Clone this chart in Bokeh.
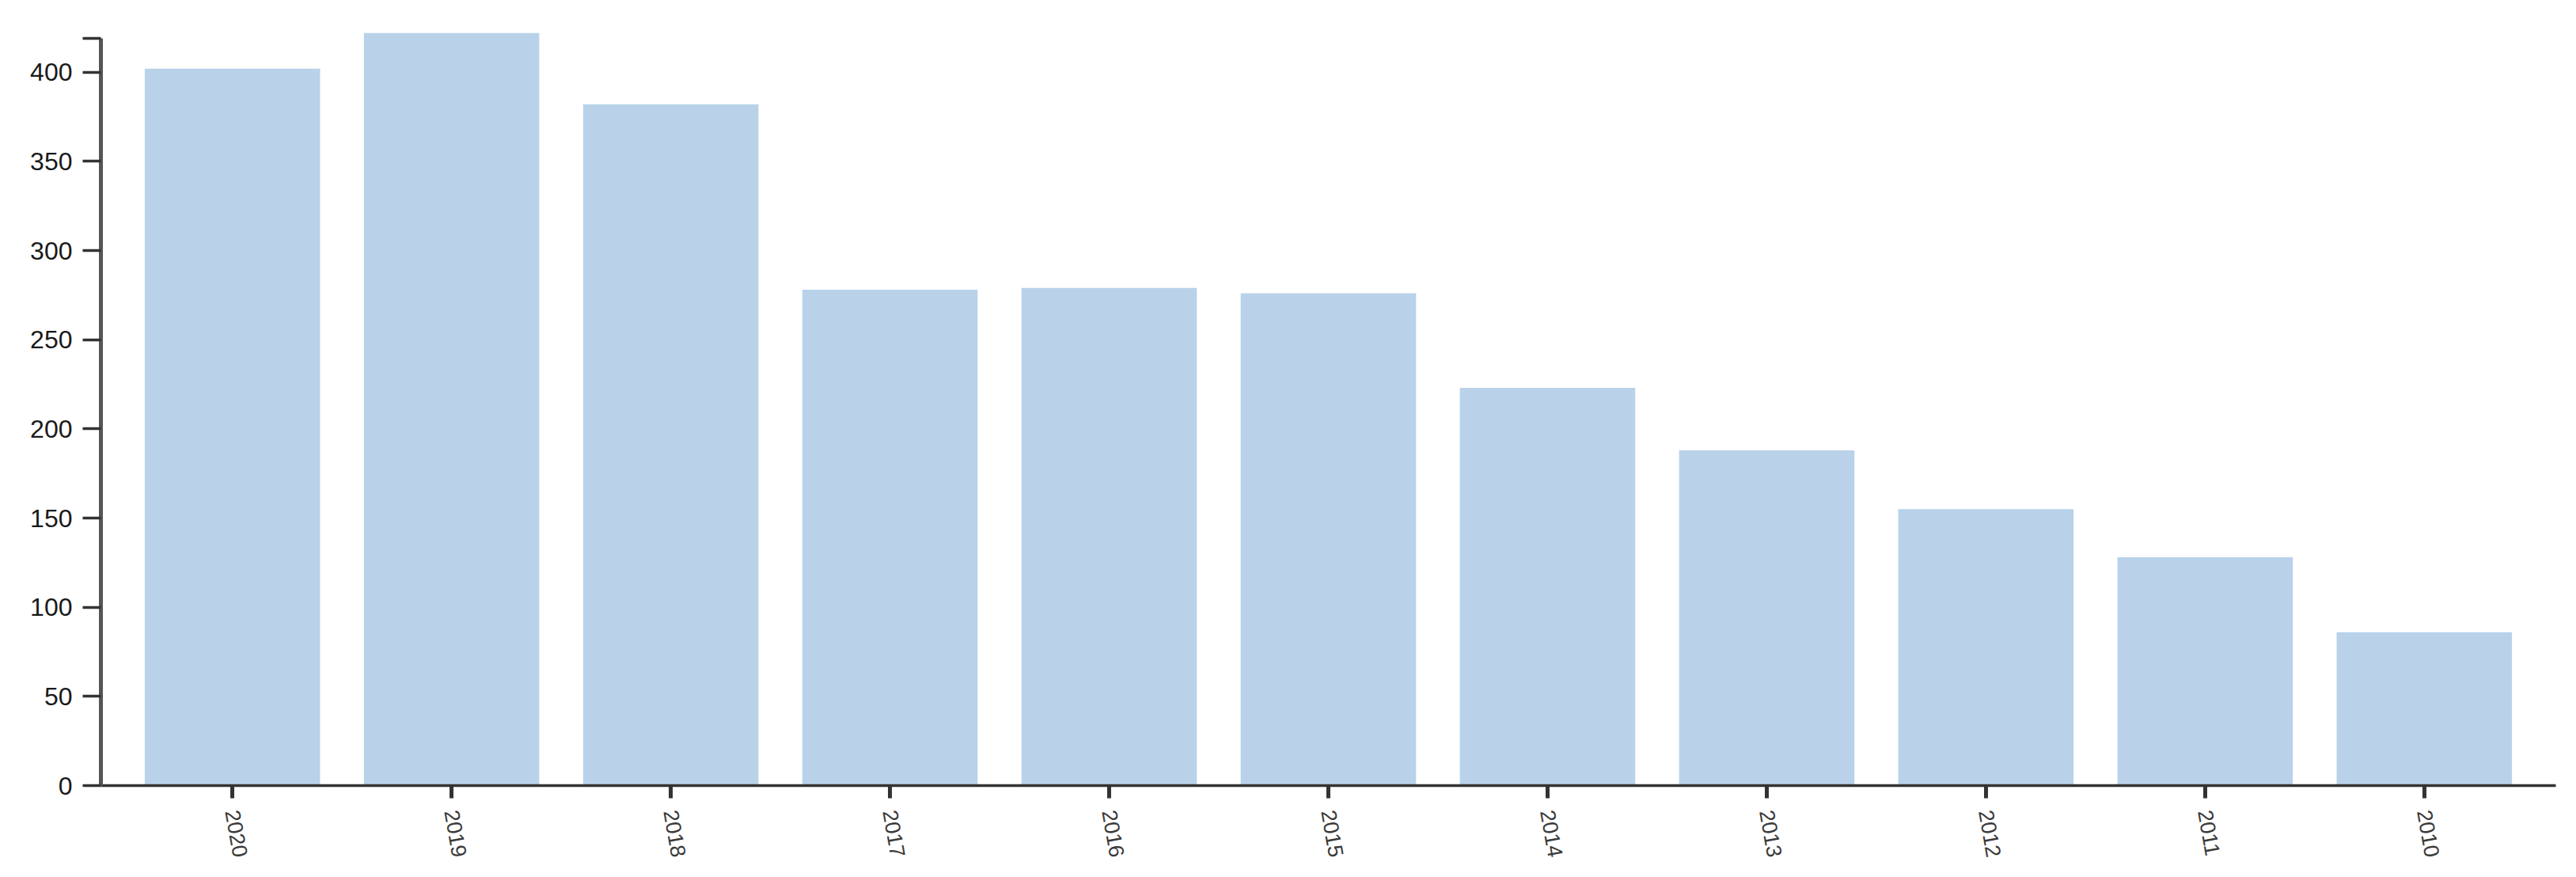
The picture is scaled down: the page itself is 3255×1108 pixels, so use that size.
import math
from bokeh.plotting import figure
from bokeh.models import FactorRange, Range1d, FixedTicker, ColumnDataSource
from bokeh.embed import file_html
from bokeh.resources import INLINE

years = ["2020", "2019", "2018", "2017", "2016", "2015", "2014", "2013", "2012", "2011", "2010"]
counts = [402, 422, 382, 278, 279, 276, 223, 188, 155, 128, 86]
y_ticks = [0, 50, 100, 150, 200, 250, 300, 350, 400]
y_axis_top = 419

source = ColumnDataSource(data=dict(year=years, count=counts))

p = figure(
    width=3255, height=1108,
    x_range=FactorRange(factors=years, range_padding=0.1, range_padding_units="absolute"),
    y_range=Range1d(0, 422.5),
    output_backend="svg", toolbar_location=None,
    min_border_left=127, min_border_right=26, min_border_top=40, min_border_bottom=116,
)
p.vbar(x="year", top="count", width=0.8, source=source,
       fill_color="#b9d2ea", line_color=None)

p.outline_line_color = None
p.xgrid.grid_line_color = None
p.ygrid.grid_line_color = None
p.background_fill_color = "white"
p.border_fill_color = "white"

# y axis
ya = p.yaxis[0]
ya.ticker = FixedTicker(ticks=y_ticks + [y_axis_top])
ya.major_label_overrides = {y_axis_top: ""}
ya.bounds = (0, y_axis_top)
ya.axis_line_color = "#555555"
ya.axis_line_width = 5
ya.major_tick_line_color = "#333333"
ya.major_tick_line_width = 3.5
ya.major_tick_out = 23
ya.major_tick_in = 0
ya.minor_tick_line_color = None
ya.major_label_standoff = 13
ya.major_label_text_font = "Liberation Sans"
ya.major_label_text_font_size = "32px"
ya.major_label_text_color = "#1a1a1a"

# x axis
xa = p.xaxis[0]
xa.axis_line_color = "#333333"
xa.axis_line_width = 3.5
xa.major_tick_line_color = "#333333"
xa.major_tick_line_width = 5
xa.major_tick_out = 16
xa.major_tick_in = 0
xa.minor_tick_line_color = None
xa.major_label_standoff = 15
xa.major_label_orientation = -80 * math.pi / 180
xa.major_label_text_font = "Liberation Sans"
xa.major_label_text_font_size = "27px"
xa.major_label_text_color = "#3a3a3a"

open("out.html", "w").write(file_html(p, INLINE))
